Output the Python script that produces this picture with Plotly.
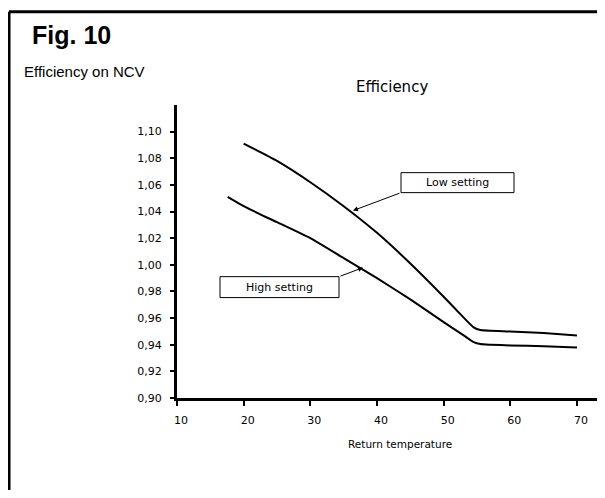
import plotly.graph_objects as go

# Data
low_x = [20, 25, 30, 35, 40, 45, 50, 52.5, 54.5, 55.5, 60, 65, 70]
low_y = [1.091, 1.078, 1.062, 1.044, 1.024, 1.001, 0.976, 0.963, 0.953, 0.951, 0.950, 0.9488, 0.947]
high_x = [17.6, 20, 25, 30, 35, 40, 45, 50, 53, 54.5, 55.5, 57, 60, 65, 70]
high_y = [1.051, 1.044, 1.032, 1.020, 1.005, 0.990, 0.974, 0.957, 0.947, 0.942, 0.9405, 0.940, 0.9395, 0.9388, 0.938]
x_ticks = [10, 20, 30, 40, 50, 60, 70]
y_ticks = [0.90, 0.92, 0.94, 0.96, 0.98, 1.00, 1.02, 1.04, 1.06, 1.08, 1.10]

geo = "'DejaVu Sans', Lato, sans-serif"
arial = "'Liberation Sans', Arial, sans-serif"

fig = go.Figure()
fig.add_trace(go.Scatter(x=low_x, y=low_y, mode="lines",
                         line=dict(color="black", width=2, shape="spline", smoothing=0.5), name="Low setting"))
fig.add_trace(go.Scatter(x=high_x, y=high_y, mode="lines",
                         line=dict(color="black", width=2, shape="spline", smoothing=0.5), name="High setting"))

shapes = []
# Frame (left and top borders)
shapes.append(dict(type="line", xref="paper", yref="paper", x0=-0.3925, x1=-0.3925, y0=1.3186, y1=-0.6,
                   line=dict(color="black", width=3)))
shapes.append(dict(type="line", xref="paper", yref="paper", x0=-0.3925, x1=1.05, y0=1.3186, y1=1.3186,
                   line=dict(color="black", width=3)))
# Label boxes
shapes.append(dict(type="rect", xref="x", yref="y", x0=43.6, x1=60.55, y0=1.0542, y1=1.0692,
                   line=dict(color="black", width=1), fillcolor="white"))
shapes.append(dict(type="rect", xref="x", yref="y", x0=16.45, x1=34.3, y0=0.9754, y1=0.9911,
                   line=dict(color="black", width=1), fillcolor="white"))

annotations = [
    dict(text="<b>Fig. 10</b>", xref="paper", yref="paper", x=-0.3435, y=1.2385, xanchor="left", yanchor="middle",
         showarrow=False, font=dict(family=arial, size=25, color="black")),
    dict(text="Efficiency on NCV", xref="paper", yref="paper", x=-0.362, y=1.113, xanchor="left", yanchor="middle",
         showarrow=False, font=dict(family=arial, size=15, color="black")),
    dict(text="Efficiency", xref="paper", yref="paper", x=0.503, y=1.061, xanchor="center", yanchor="middle",
         showarrow=False, font=dict(family=geo, size=15, color="black")),
    dict(text="Return temperature", xref="paper", yref="paper", x=0.521, y=-0.158, xanchor="center", yanchor="middle",
         showarrow=False, font=dict(family=geo, size=10.5, color="black")),
    dict(text="Low setting", xref="x", yref="y", x=52.1, y=1.0617, showarrow=False,
         font=dict(family=geo, size=11, color="black")),
    dict(text="High setting", xref="x", yref="y", x=25.4, y=0.9833, showarrow=False,
         font=dict(family=geo, size=11, color="black")),
    dict(text="", xref="x", yref="y", x=36.4, y=1.0407, axref="x", ayref="y", ax=43.6, ay=1.0542,
         showarrow=True, arrowhead=2, arrowsize=1, arrowwidth=1, arrowcolor="black"),
    dict(text="", xref="x", yref="y", x=37.9, y=0.9979, axref="x", ayref="y", ax=34.3, ay=0.9911,
         showarrow=True, arrowhead=2, arrowsize=1, arrowwidth=1, arrowcolor="black"),
]

fig.update_layout(
    width=597, height=482,
    margin=dict(l=169, r=0, t=97, b=91.5),
    paper_bgcolor="white", plot_bgcolor="white",
    showlegend=False,
    separators=", ",
    shapes=shapes, annotations=annotations,
    font=dict(family=geo, color="black"),
)
fig.update_xaxes(range=[10, 74.2], tickvals=x_ticks, ticks="outside", ticklen=5, tickwidth=2, tickcolor="black",
                 showline=True, linecolor="black", linewidth=3, showgrid=False, zeroline=False,
                 ticklabelstandoff=5, ticklabelshift=4,
                 tickfont=dict(family=geo, size=11, color="black"))
fig.update_yaxes(range=[0.90, 1.12], tickvals=y_ticks, tickformat=".2f", ticks="outside", ticklen=4, tickwidth=2,
                 tickcolor="black", showline=True, linecolor="black", linewidth=3, showgrid=False, zeroline=False,
                 ticklabelstandoff=6,
                 tickfont=dict(family=geo, size=11, color="black"))

fig.write_html("out.html", config={"displayModeBar": False})
